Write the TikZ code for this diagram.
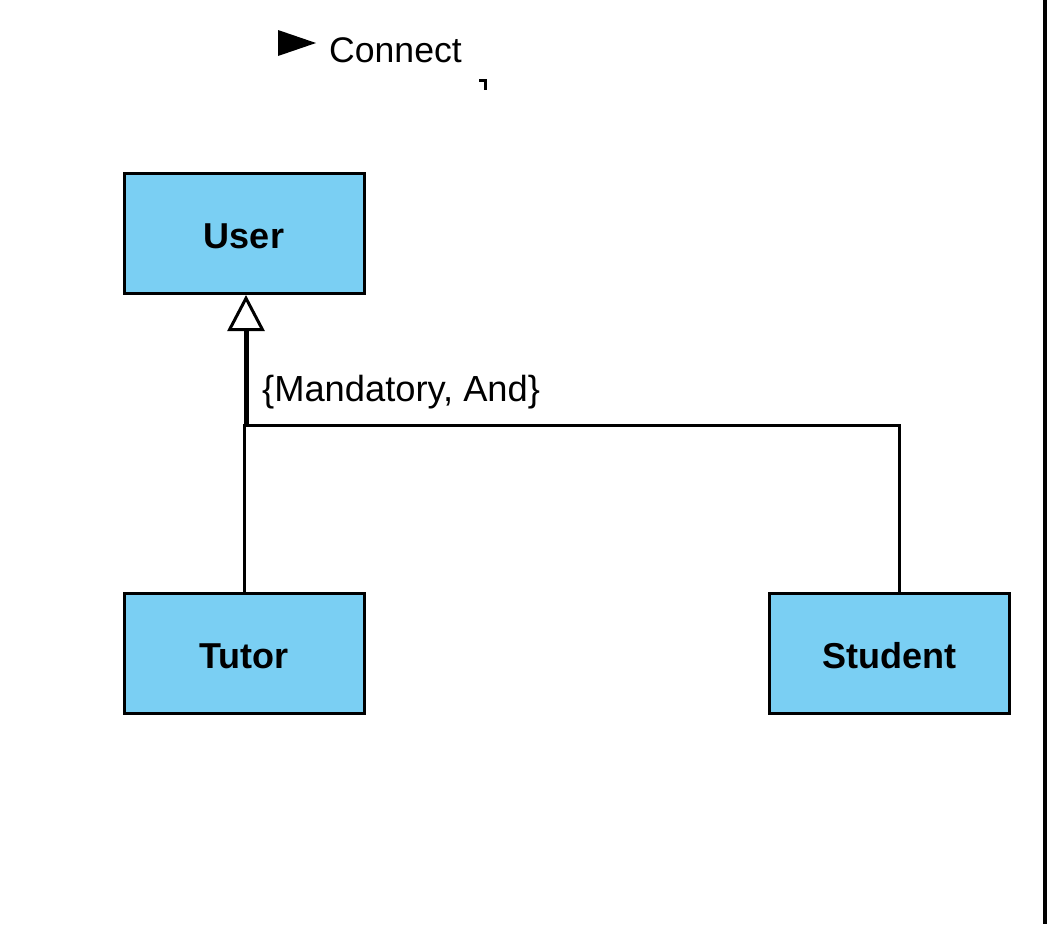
\documentclass[tikz,border=0pt]{standalone}
\usepackage{fontspec}
\setmainfont{Liberation Sans}
\usetikzlibrary{arrows.meta}
\definecolor{boxblue}{HTML}{7ACFF3}
\newcommand{\boxtext}[1]{\raisebox{-3pt}[\height][\depth]{#1}}
\begin{document}
\begin{tikzpicture}[x=1pt,y=-1pt,
  classbox/.style={draw=black,line width=3pt,fill=boxblue,minimum width=240pt,minimum height=120pt,inner sep=0pt,font=\fontsize{36}{40}\selectfont\bfseries},
  link/.style={line width=3pt,line cap=rect},
  lbl/.style={font=\fontsize{36.3}{40}\selectfont,inner sep=0pt,anchor=base west}]
\useasboundingbox (0,0) rectangle (1051,924);
\node[classbox] (user) at (244,233) {\boxtext{User}};
\node[classbox] (tutor) at (244,653) {\boxtext{Tutor}};
\node[classbox] (student) at (889,653) {\boxtext{Student}};
\coordinate (junc) at (246,425);
\coordinate (corner) at (899,425);
\coordinate (stutop) at (899,591);
\draw[link] (tutor.north) -- (244,425);
\draw[line width=5pt,-{Triangle[open,length=36pt,width=37pt,line width=3pt]}] (junc) -- (246,295);
\draw[link] (junc) -- (corner) -- (stutop);
\node[lbl] (mand) at (262,401) {\{Mandatory, And\}};
\node[lbl,font=\fontsize{35.6}{40}\selectfont] (conn) at (329,62) {Connect};
\fill (278,30) -- (316,43) -- (278,56) -- cycle;
\draw[line width=3pt] (479,80) -- (485,80) -- (485,90);
\draw[line width=4pt] (1045,0) -- (1045,924);
\end{tikzpicture}
\end{document}
